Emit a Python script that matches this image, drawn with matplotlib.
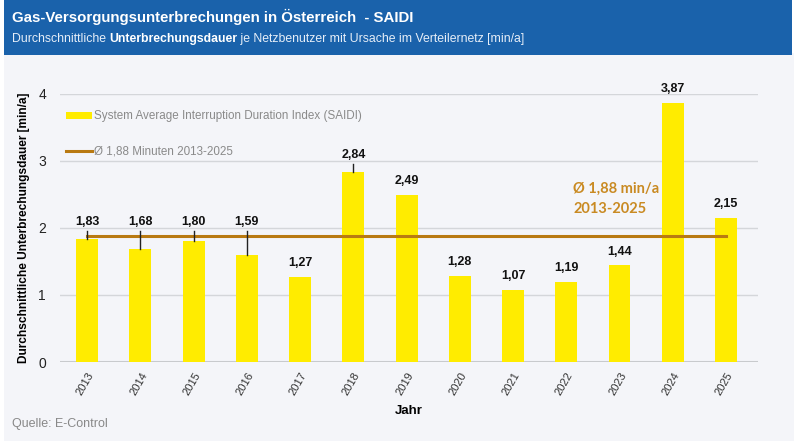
import matplotlib.pyplot as plt
from matplotlib.patches import Rectangle
import numpy as np

years = ['2013', '2014', '2015', '2016', '2017', '2018', '2019',
         '2020', '2021', '2022', '2023', '2024', '2025']
saidi = [1.83, 1.68, 1.80, 1.59, 1.27, 2.84, 2.49, 1.28, 1.07, 1.19, 1.44, 3.87, 2.15]
mean_val = 1.88

# labels that sit above the mean line, with a leader line down to the bar
leader_label_y = {0: 2.09, 1: 2.09, 2: 2.09, 3: 2.09, 5: 3.09}

narrow = ['Liberation Sans Narrow', 'Liberation Sans', 'DejaVu Sans']
plt.rcParams['font.family'] = narrow

bar_col = '#ffec00'
line_col = '#b97a12'
bg_col = '#f4f5f9'

fig = plt.figure(figsize=(8, 4.45), dpi=100)
fig.patch.set_facecolor('white')

# light panel and blue banner
fig.patches.append(Rectangle((0.005, 0.01), 0.987, 0.87, transform=fig.transFigure,
                             facecolor=bg_col, edgecolor='none', zorder=-2))
fig.patches.append(Rectangle((0.005, 0.876), 0.985, 0.124, transform=fig.transFigure,
                             facecolor='#1a62ab', edgecolor='none', zorder=-1))
fig.text(0.015, 0.962, 'Gas-Versorgungsunterbrechungen in Österreich  - SAIDI',
         color='white', fontsize=10.8, fontweight='bold', va='center')
t = fig.text(0.015, 0.913, 'Durchschnittliche ', color='#e6eef8', fontsize=8.8, va='center')
fig.canvas.draw()
r = fig.canvas.get_renderer()
bb = t.get_window_extent(r)
t2 = fig.text(bb.x1 / fig.bbox.width, 0.913, 'Unterbrechungsdauer', color='white',
              fontsize=8.8, fontweight='bold', va='center')
bb2 = t2.get_window_extent(r)
fig.text(bb2.x1 / fig.bbox.width, 0.913, ' je Netzbenutzer mit Ursache im Verteilernetz [min/a]',
         color='#e6eef8', fontsize=8.8, va='center')

ax = fig.add_axes([0.075, 0.1865, 0.8725, 0.6025])
ax.set_facecolor(bg_col)
x = np.arange(len(years))

bars = ax.bar(x, saidi, width=0.41, color=bar_col, zorder=2,
              label='System Average Interruption Duration Index (SAIDI)')
mline, = ax.plot([x[0], x[-1]], [mean_val, mean_val], color=line_col, lw=2.2, zorder=3,
                 label='Ø 1,88 Minuten 2013-2025')

for i, v in enumerate(saidi):
    lab = f'{v:.2f}'.replace('.', ',')
    if i in leader_label_y:
        ly = leader_label_y[i]
        ax.plot([i, i], [v, ly - 0.13], color='#222222', lw=1, zorder=4)
        ax.text(i, ly, lab, ha='center', va='center', fontsize=9, fontweight='bold',
                color='#111111')
    else:
        ax.annotate(lab, (i, v), xytext=(0, 10), textcoords='offset points',
                    ha='center', va='center', fontsize=9, fontweight='bold',
                    color='#111111')

ax.text(9.13, 2.58, 'Ø 1,88 min/a', color='#c98a22', fontsize=10.5, fontweight='bold',
        ha='left', va='center', family=['Lato', 'DejaVu Sans'])
ax.text(9.13, 2.28, '2013-2025', color='#c98a22', fontsize=10.5, fontweight='bold',
        ha='left', va='center', family=['Lato', 'DejaVu Sans'])

ax.set_xlim(-0.51, 12.6)
ax.set_ylim(0, 4)
ax.set_yticks([0, 1, 2, 3, 4])
ax.yaxis.grid(True, color='#d4d6da', lw=1, zorder=0)
ax.axhline(0, color='#c8cacd', lw=1.5, zorder=1)
ax.set_axisbelow(True)
for s in ax.spines.values():
    s.set_visible(False)
ax.tick_params(length=0)
ax.tick_params(axis='y', labelsize=10, pad=10, labelcolor='#222222')
ax.set_xticks(x)
ax.set_xticklabels(years, rotation=60, ha='right', rotation_mode='anchor',
                   fontsize=8, color='#333333')
ax.tick_params(axis='x', pad=6)
ax.set_xlabel('Jahr', fontsize=9.5, fontweight='bold', labelpad=6)
ax.set_ylabel('Durchschnittliche Unterbrechungsdauer [min/a]', fontsize=8.6,
              fontweight='bold', labelpad=6)

leg = ax.legend([bars, mline], [bars.get_label(), mline.get_label()],
                loc='upper left', bbox_to_anchor=(0.0, 0.96), frameon=False,
                fontsize=8.4, labelcolor='#8a8a8a', labelspacing=2.0, borderpad=0,
                handlelength=2.2, handleheight=0.6, handletextpad=0.2)

fig.text(0.015, 0.048, 'Quelle: E-Control', color='#888888', fontsize=9, va='center')

fig.savefig('out.png', dpi=100, facecolor=fig.get_facecolor())
